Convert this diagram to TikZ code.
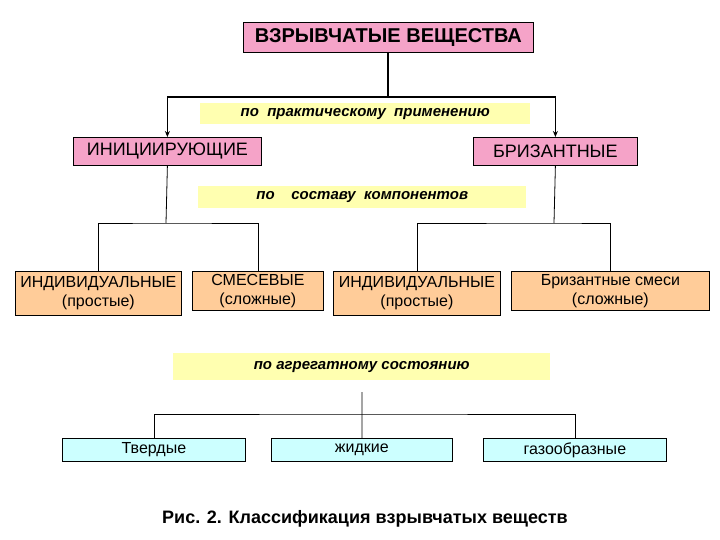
\documentclass[tikz,border=0pt]{standalone}
\usepackage{fontspec}
\setmainfont{Liberation Sans}
\usetikzlibrary{arrows.meta}
\definecolor{pinkc}{HTML}{F5A3C8}
\definecolor{orc}{HTML}{FFCC99}
\definecolor{yelc}{HTML}{FFFFB0}
\definecolor{cyc}{HTML}{CCFFFF}
\begin{document}
\begin{tikzpicture}[x=1pt,y=-1pt,
  bx/.style={draw,line width=0.8pt,anchor=north west,inner sep=0pt,align=center},
  lab/.style={fill=yelc,anchor=north west,inner sep=0pt,font=\bfseries\itshape\fontsize{15}{17}\selectfont},
  ln/.style={line width=0.8pt}]
\useasboundingbox (0,0) rectangle (720,540);
\node[bx,fill=pinkc,minimum width=290,minimum height=30,font=\fontsize{20}{22}\selectfont\bfseries] (top) at (243,22) {ВЗРЫВЧАТЫЕ ВЕЩЕСТВА};
\node[lab,minimum width=330,minimum height=21] (l1) at (200,103) {по\ \ практическому\ \ применению};
\node[bx,fill=pinkc,minimum width=188,minimum height=28,font=\fontsize{18}{20}\selectfont] (ini) at (73,137) {ИНИЦИИРУЮЩИЕ};
\node[bx,fill=pinkc,minimum width=164,minimum height=28,font=\fontsize{18}{20}\selectfont] (bri) at (473,137) {БРИЗАНТНЫЕ};
\node[lab,minimum width=328,minimum height=22] (l2) at (198,186) {по\ \ \ \ составу\ \ компонентов};
\tikzset{ob/.style={bx,fill=orc,minimum height=44,font=\fontsize{16}{19}\selectfont}}
\node[ob,minimum width=166] (o1) at (15,271) {ИНДИВИДУАЛЬНЫЕ\\(простые)};
\node[ob,minimum width=131,minimum height=39] (o2) at (192,271) {СМЕСЕВЫЕ\\(сложные)};
\node[ob,minimum width=167] (o3) at (333,271) {ИНДИВИДУАЛЬНЫЕ\\(простые)};
\node[ob,minimum width=198,minimum height=39] (o4) at (511,271) {Бризантные смеси\\(сложные)};
\node[lab,minimum width=377,minimum height=27] (l3) at (173,353) {по агрегатному состоянию};
\tikzset{cb/.style={bx,fill=cyc,minimum height=23,font=\fontsize{16}{18}\selectfont}}
\node[cb,minimum width=183] (c1) at (62,438) {Твердые};
\node[cb,minimum width=181] (c2) at (271,438) {жидкие};
\node[cb,minimum width=183] (c3) at (483,438) {газообразные};
\node[font=\bfseries\fontsize{18}{20}\selectfont] (cap) at (365,519) {Рис. 2. Классификация взрывчатых веществ};
\coordinate (tb) at (388,52);
\draw[line width=1.3pt] (tb) -- (388,97);
\draw[line width=1.3pt,-{Stealth[length=6pt,width=5pt]}] (388,97) -| (ini.north);
\draw[line width=1.3pt,-{Stealth[length=6pt,width=5pt]}] (388,97) -| (bri.north);
\draw[ln] (ini.south) -- (166,223);
\draw[ln] (o1.north) |- (166,223) -| (o2.north);
\draw[ln] (bri.south) -- (554,223);
\draw[ln] (o3.north) |- (554,223) -| (o4.north);
\coordinate (m) at (362,392);
\draw[ln] (m) -- (c2.north);
\draw[ln] (c1.north) |- (362,414) -| (c3.north);
\end{tikzpicture}
\end{document}
